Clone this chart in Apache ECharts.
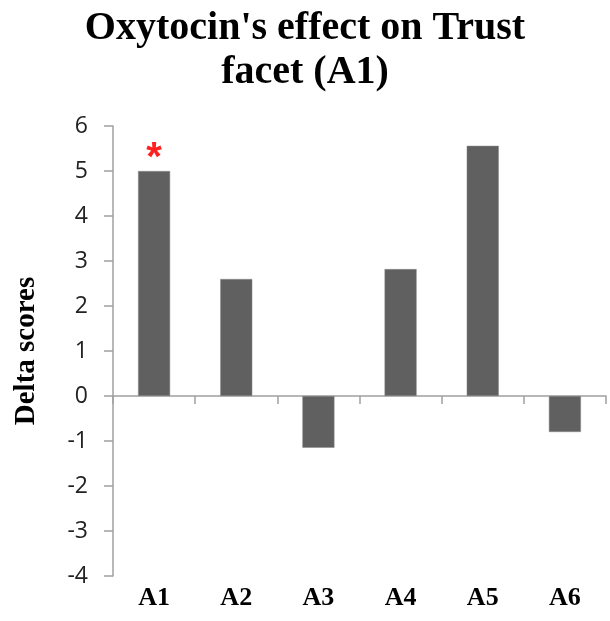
<!DOCTYPE html>
<html>
<head>
<meta charset="utf-8">
<script src="https://cdn.jsdelivr.net/npm/echarts@6/dist/echarts.min.js"></script>
<style>
  html, body { margin: 0; padding: 0; background: #fff; }
</style>
</head>
<body>
<div id="main" style="width: 610px; height: 621px"></div>
<script>
// data
const categories = ['A1', 'A2', 'A3', 'A4', 'A5', 'A6'];
const deltaScores = [5.0, 2.6, -1.15, 2.82, 5.56, -0.8];
const significant = [true, false, false, false, false, false];
const yTicks = { min: -4, max: 6, step: 1 };

const myChart = echarts.init(document.getElementById('main'));

const barData = deltaScores.map(function (v, i) {
  if (!significant[i]) return v;
  return {
    value: v,
    label: {
      show: true,
      position: 'top',
      formatter: '*',
      color: '#ff2020',
      fontSize: 40,
      fontWeight: 'bold',
      fontFamily: 'Liberation Sans',
      distance: -8
    }
  };
});

const option = {
  animation: false,
  backgroundColor: '#ffffff',
  title: {
    text: "Oxytocin's effect on Trust\nfacet (A1)",
    left: 'center',
    top: 2,
    textStyle: {
      fontFamily: 'Liberation Serif',
      fontWeight: 'bold',
      fontSize: 40,
      lineHeight: 44,
      color: '#000'
    }
  },
  grid: { left: 113, right: 4, top: 126, bottom: 45 },
  xAxis: [
    {
      // axis drawn at zero, ticks between categories
      type: 'category',
      data: categories,
      axisLine: { onZero: true, lineStyle: { color: '#a0a0a0', width: 1.5 } },
      axisTick: { show: true, length: 8, lineStyle: { color: '#a0a0a0', width: 1.5 } },
      axisLabel: { show: false }
    },
    {
      // labels only, at the bottom
      type: 'category',
      data: categories,
      position: 'bottom',
      axisLine: { show: false, onZero: false },
      axisTick: { show: false },
      axisLabel: {
        margin: 9,
        fontFamily: 'Liberation Serif',
        fontWeight: 'bold',
        fontSize: 26,
        color: '#000'
      }
    }
  ],
  yAxis: {
    type: 'value',
    min: yTicks.min,
    max: yTicks.max,
    interval: yTicks.step,
    name: 'Delta scores',
    nameLocation: 'middle',
    nameGap: 72,
    nameTextStyle: {
      fontFamily: 'Liberation Serif',
      fontWeight: 'bold',
      fontSize: 29,
      color: '#000'
    },
    axisLine: { show: true, lineStyle: { color: '#a0a0a0', width: 1.5 } },
    axisTick: { show: true, inside: false, length: 9, lineStyle: { color: '#a0a0a0', width: 1.5 } },
    splitLine: { show: false },
    axisLabel: {
      margin: 25,
      fontFamily: 'Open Sans',
      fontSize: 23,
      color: '#222'
    }
  },
  series: [
    {
      type: 'bar',
      data: barData,
      barWidth: '39%',
      itemStyle: {
        color: '#606060',
        borderColor: '#8a8a8a',
        borderWidth: 0.5
      }
    }
  ]
};

myChart.setOption(option);
</script>
</body>
</html>
